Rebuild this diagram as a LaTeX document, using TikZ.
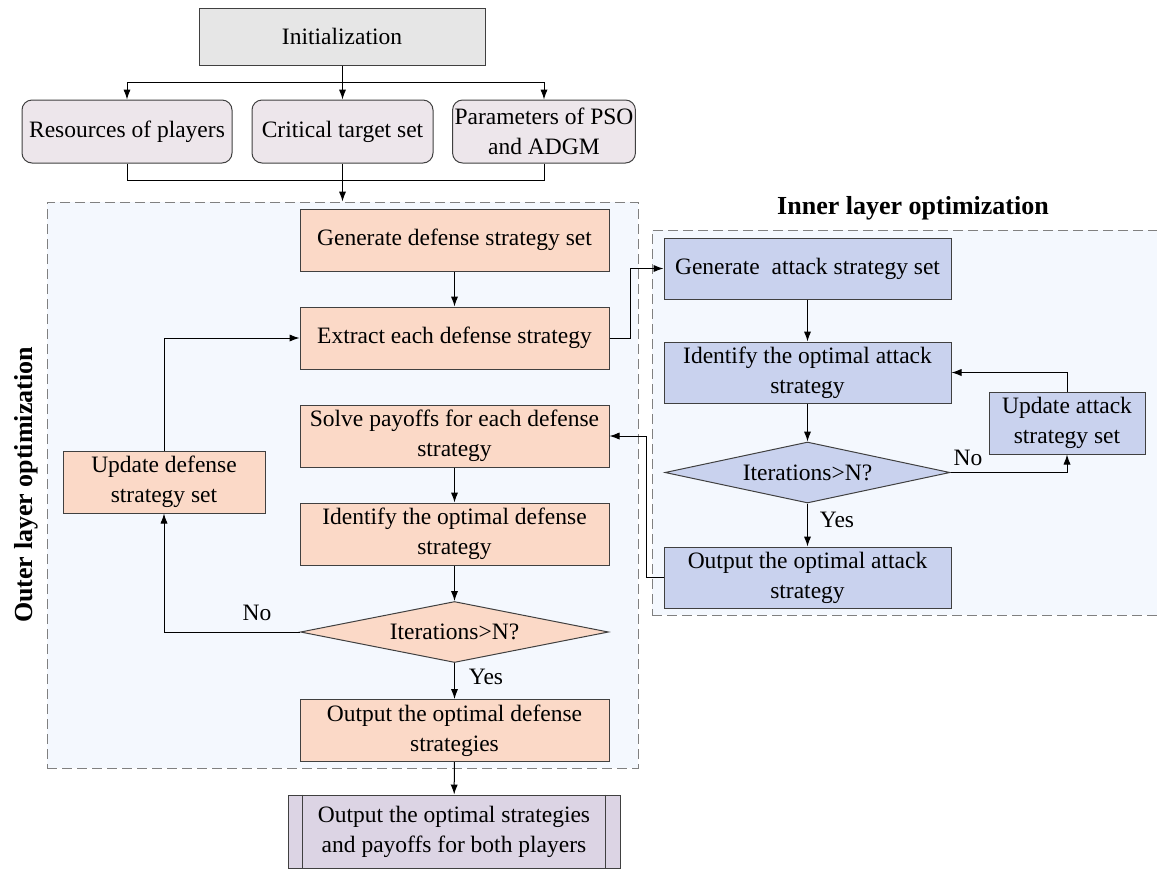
\documentclass[tikz,border=0pt]{standalone}
\usepackage{fontspec}
\setmainfont{Liberation Serif}
\usepackage{xcolor}
\usepackage{tikz}
\usetikzlibrary{shapes,arrows,positioning,calc,arrows.meta}

\definecolor{peach}{HTML}{FBD9C7}
\definecolor{lblue}{HTML}{C9D2EE}
\definecolor{lgray}{HTML}{E6E6E6}
\definecolor{lpink}{HTML}{EDE6EB}
\definecolor{lilac}{HTML}{DCD4E4}
\definecolor{bgblue}{HTML}{F4F8FE}
\definecolor{edge}{HTML}{404040}

\begin{document}
\begin{tikzpicture}[x=0.5pt, y=-0.5pt, >={Latex[length=5pt,width=3.6pt]}, line width=0.5pt,
   txt/.style={font=\fontsize{11.75}{15}\selectfont},
   box/.style={txt, draw=edge, align=center, inner sep=1pt},
   defbox/.style={box, fill=peach, minimum width=154.5pt, minimum height=31pt},
   attbox/.style={box, fill=lblue, minimum width=143.5pt, minimum height=30.5pt},
   inbox/.style={box, fill=lpink, rounded corners=5pt, minimum height=31.5pt},
   decide/.style={txt, draw=edge, diamond, aspect=5, inner sep=0pt},
   layer/.style={draw=gray, dash pattern=on 5pt off 2.5pt, fill=bgblue, inner sep=0pt},
   title/.style={font=\fontsize{13}{15}\selectfont\bfseries}]

   \useasboundingbox (0,0) rectangle (1157,869);

   % Layers
   \node[layer, minimum width=295.5pt, minimum height=283pt] (outer) at (342.5,485) {};
   \node[layer, minimum width=259pt, minimum height=192.5pt] (inner) at (911,422.5) {};
   \node[title, rotate=90] (otitle) at (26,485) {Outer layer optimization};
   \node[title] (ititle) at (913,208) {Inner layer optimization};

   % Initialization
   \node[box, fill=lgray, minimum width=143pt, minimum height=28.5pt] (init) at (342,36.5) {Initialization};
   \node[inbox, minimum width=105pt] (res) at (127,131.5) {Resources of players};
   \node[inbox, minimum width=90.5pt] (crit) at (342.5,131.5) {Critical target set};
   \node[inbox, minimum width=87pt] (par) at (544,131.5) {Parameters of PSO\\and ADGM};
   \coordinate (split) at (342,82);
   \coordinate (merge) at (342.5,180);
   \draw (init) -- (split);
   \draw[->] (split) -| (res);
   \draw[->] (split) -| (crit);
   \draw[->] (split) -| (par);
   \draw (res) |- (merge);
   \draw (par) |- (merge);
   \draw[->] (crit) -- (outer.north);

   % Outer layer
   \node[defbox] (gend) at (454.5,240) {Generate defense strategy set};
   \node[defbox] (extr) at (454.5,338) {Extract each defense strategy};
   \node[defbox] (solv) at (454.5,436) {Solve payoffs for each defense\\strategy};
   \node[defbox] (idd) at (454.5,534) {Identify the optimal defense\\strategy};
   \node[decide, fill=peach, minimum width=154pt, minimum height=30.5pt] (ddec) at (454.5,632) {Iterations>N?};
   \node[defbox] (outd) at (454.5,730.5) {Output the optimal defense\\strategies};
   \node[box, fill=peach, minimum width=101pt, minimum height=31pt] (updd) at (164,482) {Update defense\\strategy set};
   \node[txt] (nod) at (257,613) {No};
   \node[txt] (yesd) at (486,677) {Yes};

   % Inner layer
   \node[attbox] (gena) at (807.5,268.5) {Generate~ attack strategy set};
   \node[attbox] (ida) at (807.5,372.5) {Identify the optimal attack\\strategy};
   \node[decide, fill=lblue, minimum width=142.5pt, minimum height=30.5pt] (adec) at (807.5,472.5) {Iterations>N?};
   \node[attbox] (outa) at (807.5,577.5) {Output the optimal attack\\strategy};
   \node[box, fill=lblue, minimum width=78pt, minimum height=31pt] (upda) at (1067,423) {Update attack\\strategy set};
   \node[txt] (noa) at (968,458) {No};
   \node[txt] (yesa) at (837,520) {Yes};

   % Final output
   \node[box, fill=lilac, minimum width=166pt, minimum height=36.5pt] (fin) at (454,831.5) {Output the optimal strategies\\and payoffs for both players};
   \draw[edge] ([xshift=7.5pt]fin.north west) -- ([xshift=7.5pt]fin.south west);
   \draw[edge] ([xshift=-7.5pt]fin.north east) -- ([xshift=-7.5pt]fin.south east);

   % Connections
   \draw[->] (gend) -- (extr);
   \draw[->] (solv) -- (idd);
   \draw[->] (idd) -- (ddec);
   \draw[->] (ddec) -- (outd);
   \draw[->] (outd) -- (fin);
   \draw[->] (ddec.west) -| (updd.south);
   \draw[->] (updd.north) |- (extr.west);
   \draw[->] (extr.east) -- ++(21,0) |- (gena.west);
   \draw[->] (gena) -- (ida);
   \draw[->] (ida) -- (adec);
   \draw[->] (adec) -- (outa);
   \draw[->] (adec.east) -| (upda.south);
   \draw[->] (upda.north) |- (ida.east);
   \draw[->] (outa.west) -- ++(-17,0) |- (solv.east);
\end{tikzpicture}
\end{document}
